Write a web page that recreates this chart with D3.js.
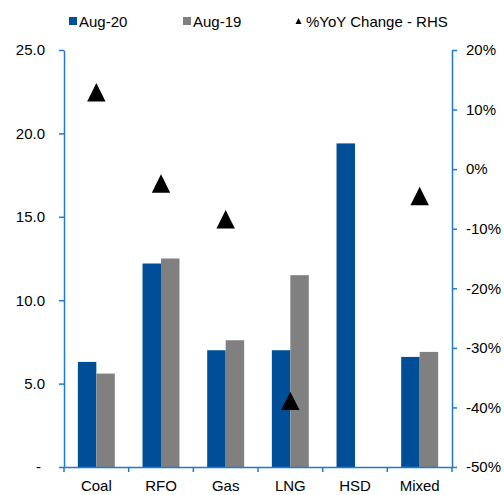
<!DOCTYPE html>
<html>
<head>
<meta charset="utf-8">
<script src="https://cdn.jsdelivr.net/npm/d3@7"></script>
<style>
  body { margin: 0; background: #fff; }
  svg { font-family: "Liberation Sans", Arial, sans-serif; }
</style>
</head>
<body>
<div id="chart"></div>
<script>
// chart data
const categories = ["Coal", "RFO", "Gas", "LNG", "HSD", "Mixed"];
const aug20 = [6.3, 12.2, 7.0, 7.0, 19.4, 6.6];
const aug19 = [5.6, 12.5, 7.6, 11.5, null, 6.9];
const yoyChange = [12.9, -2.4, -8.4, -38.9, null, -4.5];
const leftTicks = [0, 5, 10, 15, 20, 25];
const rightTicks = [-50, -40, -30, -20, -10, 0, 10, 20];
const seriesNames = ["Aug-20", "Aug-19"];

var width = 504, height = 495;
var plotLeft = 64, plotRight = 452, plotTop = 50, plotBottom = 467;
var axisColor = "#1f78d1";
var colors = { "Aug-20": "#004e98", "Aug-19": "#808080" };

const svg = d3.select("#chart").append("svg")
    .attr("width", width)
    .attr("height", height);

const x = d3.scaleBand()
    .domain(categories)
    .range([plotLeft, plotRight])
    .padding(0);

const x1 = d3.scaleBand()
    .domain(seriesNames)
    .range([0, x.bandwidth()])
    .paddingInner(0)
    .paddingOuter(0.75);

const yL = d3.scaleLinear().domain([0, 25]).range([plotBottom, plotTop]);
const yR = d3.scaleLinear().domain([-50, 20]).range([plotBottom, plotTop]);

// bars
var rows = categories.map((c, i) => ({ cat: c, "Aug-20": aug20[i], "Aug-19": aug19[i] }));
svg.append("g")
    .selectAll("g")
    .data(rows)
    .join("g")
    .attr("transform", d => `translate(${x(d.cat)},0)`)
    .selectAll("rect")
    .data(d => seriesNames.map(s => ({ key: s, value: d[s] })).filter(e => e.value != null))
    .join("rect")
    .attr("x", d => x1(d.key))
    .attr("width", x1.bandwidth())
    .attr("y", d => yL(d.value))
    .attr("height", d => yL(0) - yL(d.value))
    .attr("fill", d => colors[d.key]);

// left axis
var gl = svg.append("g")
    .attr("transform", `translate(${plotLeft},0)`)
    .call(d3.axisLeft(yL).tickValues(leftTicks).tickSize(5).tickSizeOuter(0).tickPadding(14)
        .tickFormat(d => d === 0 ? "-" : d.toFixed(1)));
gl.selectAll("text").filter(d => d === 0).attr("dx", -4);

// right axis
var gr = svg.append("g")
    .attr("transform", `translate(${plotRight},0)`)
    .call(d3.axisRight(yR).tickValues(rightTicks).tickSize(5).tickSizeOuter(0).tickPadding(9)
        .tickFormat(d => d + "%"));

// x axis
var gx = svg.append("g")
    .attr("transform", `translate(0,${plotBottom})`)
    .call(d3.axisBottom(x).tickSize(0).tickPadding(13).tickSizeOuter(0));

[gl, gr, gx].forEach(g => g.attr("font-size", 15).attr("font-family", null));

var bounds = categories.map(c => x(c)).concat([x.range()[1]]);
svg.append("g")
    .selectAll("line")
    .data(bounds)
    .join("line")
    .attr("x1", d => d).attr("x2", d => d)
    .attr("y1", plotBottom).attr("y2", plotBottom + 5)
    .attr("stroke", axisColor).attr("stroke-width", 1.5);

svg.selectAll(".domain, .tick line").attr("stroke", axisColor).attr("stroke-width", 1.5);
svg.selectAll(".tick text").attr("fill", "#000");

// triangles (% yoy)
function tri(s) {
    return `M0,${-s}L${s},${s}L${-s},${s}Z`;
}
svg.append("g")
    .selectAll("path")
    .data(categories.map((c, i) => ({ cat: c, v: yoyChange[i] })).filter(d => d.v != null))
    .join("path")
    .attr("d", tri(9.2))
    .attr("transform", d => `translate(${x(d.cat) + x.bandwidth() / 2},${yR(d.v)})`)
    .attr("fill", "#000");

// legend
const legendItems = [
    { label: "Aug-20", type: "rect", color: colors["Aug-20"], x: 69 },
    { label: "Aug-19", type: "rect", color: colors["Aug-19"], x: 183 },
    { label: "%YoY Change - RHS", type: "tri", color: "#000", x: 295 }
];
var lg = svg.append("g").selectAll("g").data(legendItems).join("g")
    .attr("transform", d => `translate(${d.x},21)`);
lg.filter(d => d.type === "rect").append("rect")
    .attr("x", 0).attr("y", -4).attr("width", 8).attr("height", 8)
    .attr("fill", d => d.color);
lg.filter(d => d.type === "tri").append("path")
    .attr("d", tri(3)).attr("transform", "translate(3.5,0)")
    .attr("fill", d => d.color);
lg.append("text")
    .attr("x", d => d.type === "tri" ? 11 : 10)
    .attr("y", 5.5)
    .attr("font-size", "15px")
    .attr("fill", "#000")
    .text(d => d.label);
</script>
</body>
</html>
